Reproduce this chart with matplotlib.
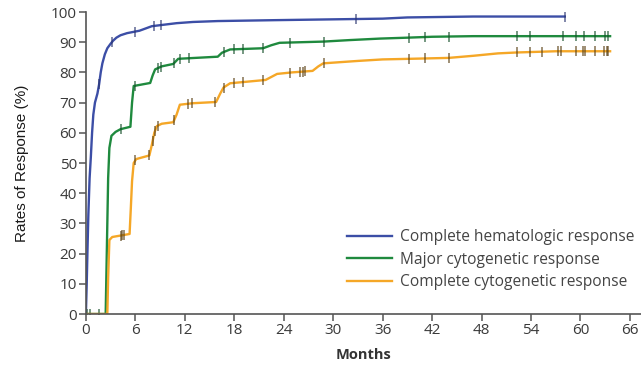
import matplotlib.pyplot as plt
import numpy as np

# curve points (months, %)
chr_t = [0, 0.1, 0.2, 0.3, 0.45, 0.6, 0.75, 0.9, 1.1, 1.4, 1.6, 1.8, 2.0, 2.3, 2.6, 3.0, 3.3, 3.7,
         4.2, 5.0, 6.5, 7.3, 8.0, 9.5, 11, 13, 16, 23, 36, 39, 47, 58.1]
chr_y = [0, 10, 22, 33, 45, 52, 60, 66, 70, 73, 76, 80, 83, 86, 88, 89.5, 90.5, 91.5,
         92.3, 93, 93.8, 94.6, 95.3, 95.8, 96.3, 96.7, 97, 97.3, 97.8, 98.2, 98.5, 98.5]
chr_cens = [1.6, 3.2, 6.0, 8.3, 9.1, 32.8, 58.1]

mcr_t = [0, 2.4, 2.5, 2.6, 2.7, 2.85, 3.1, 3.6, 4.2, 5.4, 5.6, 5.8, 7.8, 8.1, 8.4, 9.2, 10.6, 11.2,
         16, 16.5, 17.5, 21.5, 22.5, 23.5, 28.8, 32, 35.7, 39, 42, 47, 63.6]
mcr_y = [0, 0, 15, 30, 45, 55, 59, 60.3, 61.2, 62, 70, 75.5, 76.5, 79, 81, 82, 82.8, 84.5,
         85.2, 86.5, 87.6, 88, 89, 89.8, 90.2, 90.7, 91.2, 91.5, 91.8, 92, 92]
mcr_cens = [0.15, 0.55, 1.6, 4.3, 6.0, 8.8, 9.1, 10.7, 11.4, 12.5, 16.7, 18.0, 19.1, 21.5, 24.8,
            28.9, 39.2, 41.1, 44.1, 52.3, 53.9, 57.9, 59.5, 60.4, 61.8, 63.0, 63.4]

ccr_t = [0, 2.6, 2.7, 2.85, 3.2, 5.3, 5.45, 5.6, 5.8, 6.1, 7.7, 8.0, 8.3, 8.6, 9.2, 10.6, 11.0, 11.4,
         13, 15.8, 16.3, 16.7, 17.5, 21.8, 22.5, 23.2, 25, 27.5, 28.2, 28.8, 33, 36, 39.3, 44, 47,
         50, 52.3, 57, 63.6]
ccr_y = [0, 0, 12, 24.5, 25.5, 26.5, 35, 44, 50, 51.3, 52.5, 56, 60, 62.2, 63, 63.5, 66, 69.3,
         69.8, 70.2, 73, 75, 76.4, 77.5, 78.5, 79.5, 80, 80.5, 82, 83, 83.8, 84.3, 84.5, 84.8, 85.5,
         86.3, 86.6, 87, 87]
ccr_cens = [4.2, 4.4, 4.6, 6.0, 7.7, 8.1, 8.4, 8.7, 10.7, 12.4, 12.9, 15.7, 16.7, 18.0, 19.1, 21.5,
            24.8, 26.0, 26.3, 26.6, 28.9, 39.2, 41.1, 44.1, 52.3, 53.9, 55.3, 57.3, 57.7, 59.5,
            60.3, 60.6, 61.8, 62.9, 63.2, 63.4]

labels = ['Complete hematologic response', 'Major cytogenetic response',
          'Complete cytogenetic response']
colors = ['#3c4ea6', '#1f8a3e', '#f5a727']
mark_colors = ['#2a3570', '#15502a', '#5a4015']

plt.rcParams['font.family'] = ['Open Sans', 'DejaVu Sans']
fig = plt.figure(figsize=(6.41, 3.67), dpi=100)
ax = fig.add_axes([0.134, 0.1444, 0.866, 0.8229])

series = [(chr_t, chr_y, chr_cens), (mcr_t, mcr_y, mcr_cens), (ccr_t, ccr_y, ccr_cens)]
for (t, y, c), lab, col, mc in zip(series, labels, colors, mark_colors):
    ax.plot(t, y, color=col, lw=1.7, label=lab)
    # censor marks sit on the curve
    cy = np.interp(c, t, y)
    ax.plot(c, cy, ls='none', marker='|', ms=7.5, mew=1.1, color=mc, alpha=0.75)

ax.set_xlim(0, 67.35)
ax.set_ylim(0, 100)
ax.set_xticks(range(0, 67, 6))
ax.set_yticks(range(0, 101, 10))
for s in ['top', 'right']:
    ax.spines[s].set_visible(False)
for s in ['left', 'bottom']:
    ax.spines[s].set_color('#555555')
    ax.spines[s].set_linewidth(1.2)
ax.tick_params(direction='out', length=5, width=1.1, color='#555555',
               labelsize=11, labelcolor='#3a3a3a', pad=1.5)
ax.set_xlabel('Months', fontsize=10.5, fontweight='bold', color='#333333', labelpad=7)
ax.set_ylabel('Rates of Response (%)', fontsize=11, color='#1a1a1a', labelpad=16,
              family=['Liberation Sans', 'DejaVu Sans'])

leg = ax.legend(loc='upper left', bbox_to_anchor=(0.541, 0.376), bbox_transform=fig.transFigure,
                frameon=False, fontsize=11.2, handlelength=2.9, handletextpad=0.5,
                labelspacing=0.42, borderaxespad=0, borderpad=0)
for txt in leg.get_texts():
    txt.set_color('#444444')

fig.savefig('out.png', dpi=100)
